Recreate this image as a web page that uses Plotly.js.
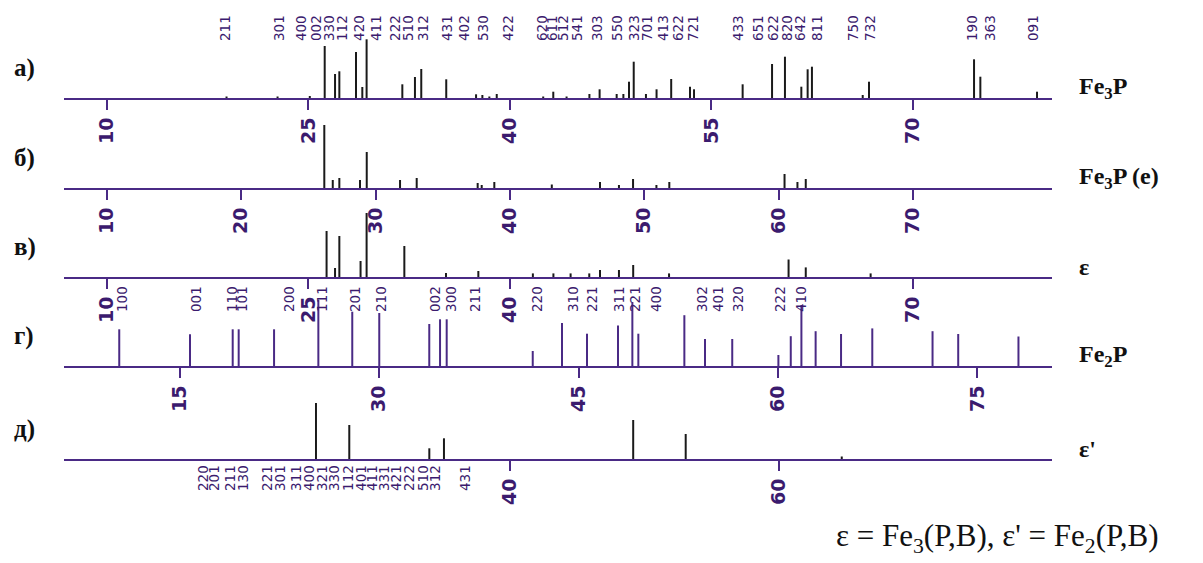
<!DOCTYPE html>
<html><head><meta charset="utf-8">
<script src="https://cdn.plot.ly/plotly-3.0.1.min.js"></script>
<style>html,body{margin:0;padding:0;background:#fff}#chart{width:1203px;height:563px}</style>
</head><body><div id="chart"></div>
<script>
// ---- Panel а) Fe3P ----
const fe3pPos = [18.9,22.7,25.1,26.21,26.98,27.30,28.54,29.01,29.33,31.99,32.93,33.40,35.26,37.48,37.95,38.47,39.02,42.48,43.23,44.22,45.92,46.68,47.95,48.45,48.87,49.22,50.13,50.92,52.01,53.41,53.71,57.33,59.52,60.48,61.70,62.17,62.49,66.27,66.74,74.56,75.03,79.25];
const fe3pInt = [1.5,1.5,2,52,24,26.7,46,11,58.7,13.7,21,29,18.7,3.7,3,1.5,4,1.5,6.3,1.5,4,8.7,4,4,16.3,36.3,4,8.7,19,11.3,8.7,13.7,34,41.3,11.3,28.7,31.3,3,16.3,38.7,21.3,6.3];
const fe3pHkl = ["211","301","400","002","330","112","420","411","222","510","312","431","402","530","422","620","611","512","541","303","550","323","701","413","622","721","433","651","622","820","642","811","750","732","190","363","091"];
const fe3pHklPos = [18.79,22.81,24.45,25.56,26.53,27.50,28.76,30.03,31.44,32.41,33.53,35.32,36.58,38.00,39.86,42.39,43.14,43.95,45.00,46.49,47.97,49.24,50.21,51.40,52.52,53.63,56.99,58.48,59.59,60.63,61.60,62.87,65.55,66.81,74.41,75.75,78.95];
const ticksA = [10,25,40,55,70];

// ---- Panel б) Fe3P (e) ----
const fe3pePos = [26.18,26.81,27.30,28.84,29.34,31.82,33.06,37.60,37.90,38.84,43.12,46.71,48.12,49.17,50.91,51.87,60.45,61.41,62.03];
const fe3peInt = [63,8,10,8,36,8,10,5,3,6,3.5,6,3,9,3,6,14,6,9];
const ticksB = [10,20,30,40,50,60,70];

// ---- Panel в) ε ----
const epsPos = [26.35,26.98,27.30,28.88,29.33,32.14,35.24,37.65,41.71,43.24,44.52,45.91,46.71,48.12,49.18,51.85,60.75,62.03,66.86];
const epsInt = [46,9,41,16,64,31,4,6,3.6,3.6,3.6,3.6,7,7,12,3.6,17.5,9.6,3.6];
const ticksC = [10,25,40,70];

// ---- Panel г) Fe2P ----
const fe2pPos = [10.47,15.79,19.00,19.45,22.11,25.44,27.99,30.02,33.78,34.59,35.09,41.56,43.76,45.64,47.97,49.05,49.50,52.96,54.51,56.56,60.03,60.96,61.76,62.83,64.74,67.09,71.62,73.55,78.08];
const fe2pInt = [36.7,31.7,36.7,36.7,36.7,66,54.3,53,42,46.7,46.7,15,43,32.3,40.5,64,32.3,50.8,27,27,11,29.8,61,34.8,32,37.6,34.8,32,29.5];
const fe2pHkl = ["100","001","110","101","200","111","201","210","002","300","211","220","310","221","311","221","400","302","401","320","222","410"];
const fe2pHklPos = [10.68,16.24,18.95,19.70,23.23,25.71,28.20,30.15,34.21,35.41,37.22,41.88,44.59,46.02,48.05,49.25,50.83,54.29,55.49,56.99,60.15,61.73];
const ticksD = [15,30,45,60,75];

// ---- Panel д) ε' ----
const eps2Pos = [25.56,28.04,34.00,35.09,49.18,53.09,64.71];
const eps2Int = [56,34,10.7,20.7,39,25,2.5];
const eps2Hkl = ["220","201","211","130","221","301","311","400","321","330","112","401","411","331","421","222","510","312","431"];
const eps2HklPos = [17.15,17.97,19.16,20.13,21.91,22.88,24.07,25.04,26.01,26.90,27.94,28.91,29.73,30.63,31.52,32.49,33.53,34.42,36.66];
const ticksE = [40,60];

const panelLetters = ["а)","б)","в)","г)","д)"];
const phaseNames = ["<b>Fe<sub>3</sub>P</b>","<b>Fe<sub>3</sub>P (e)</b>","<b>ε</b>","<b>Fe<sub>2</sub>P</b>","<b>ε'</b>"];
const footnote = "ε = Fe<sub>3</sub>(P,B), ε' = Fe<sub>2</sub>(P,B)";

// ---- geometry ----
const W = 1203, H = 563;
const PURPLE = "#4a2a85", TXT = "#3b1b6e";
const baselines = [98,188,277,366,459];
const panelH = 70;
const xDomain = [64/W, 1052/W];
const rangeStd = [6.798, 80.365];
const rangeFe2P = [6.316, 80.602];
const py = p => 1 - p/H;

function sticks(pos, hts){
  const x=[], y=[];
  pos.forEach((p,i)=>{x.push(p,p,null); y.push(0,hts[i],null);});
  return {x,y};
}

const panels = [
  {pos:fe3pPos,  ht:fe3pInt,  ticks:ticksA, range:rangeStd,  color:"#1a1a1a"},
  {pos:fe3pePos, ht:fe3peInt, ticks:ticksB, range:rangeStd,  color:"#1a1a1a"},
  {pos:epsPos,   ht:epsInt,   ticks:ticksC, range:rangeStd,  color:"#1a1a1a"},
  {pos:fe2pPos,  ht:fe2pInt,  ticks:ticksD, range:rangeFe2P, color:PURPLE},
  {pos:eps2Pos,  ht:eps2Int,  ticks:ticksE, range:rangeStd,  color:"#1a1a1a"}
];

const traces = [];
const layout = {
  width: W, height: H, margin:{l:0,r:0,t:0,b:0},
  paper_bgcolor:"#fff", plot_bgcolor:"rgba(0,0,0,0)",
  showlegend:false, annotations:[]
};

panels.forEach((p,i)=>{
  const n = i+1, sfx = n===1 ? "" : String(n);
  const s = sticks(p.pos, p.ht);
  traces.push({type:"scatter", mode:"lines", x:s.x, y:s.y, xaxis:"x"+sfx, yaxis:"y"+sfx,
    line:{color:p.color, width:2}, hoverinfo:"skip", showlegend:false, cliponaxis:false});
  const b = baselines[i];
  layout["xaxis"+sfx] = {
    domain:xDomain, range:p.range, anchor:"y"+sfx,
    showline:true, linecolor:PURPLE, linewidth:2,
    ticks:"outside", ticklen:10, tickwidth:2, tickcolor:PURPLE,
    tickvals:p.ticks, ticktext:p.ticks.map(String), tickangle:-90,
    tickfont:{family:"DejaVu Sans", size:19, color:TXT, weight:"bold"},
    showgrid:false, zeroline:false, fixedrange:true
  };
  layout["yaxis"+sfx] = {
    domain:[py(b), py(b-panelH)], range:[0,panelH], anchor:"x"+sfx,
    visible:false, fixedrange:true
  };
  layout.annotations.push({xref:"paper", yref:"paper", x:12/W, y:py(b-30), xanchor:"left", yanchor:"middle",
    text:"<b>"+panelLetters[i]+"</b>", showarrow:false, font:{family:"Liberation Serif", size:25, color:"#111"}});
  layout.annotations.push({xref:"paper", yref:"paper", x:1077/W, y:py(b-10), xanchor:"left", yanchor:"middle",
    text:phaseNames[i], showarrow:false, font:{family:"Liberation Serif", size:24, color:"#111"}});
});

function hklLabels(labels, pos, xref, yPx){
  labels.forEach((t,i)=>{
    layout.annotations.push({xref:xref, yref:"paper", x:pos[i], y:py(yPx), xanchor:"center", yanchor:"middle",
      text:t, textangle:-90, showarrow:false, font:{family:"DejaVu Sans", size:13.5, color:TXT}});
  });
}
hklLabels(fe3pHkl, fe3pHklPos, "x", 28);
hklLabels(fe2pHkl, fe2pHklPos, "x4", 299);
hklLabels(eps2Hkl, eps2HklPos, "x5", 478);

layout.annotations.push({xref:"paper", yref:"paper", x:834/W, y:py(538), xanchor:"left", yanchor:"middle",
  text:footnote, showarrow:false, font:{family:"Liberation Serif", size:31, color:"#111"}});

Plotly.newPlot("chart", traces, layout, {staticPlot:true, displayModeBar:false});
</script></body></html>
